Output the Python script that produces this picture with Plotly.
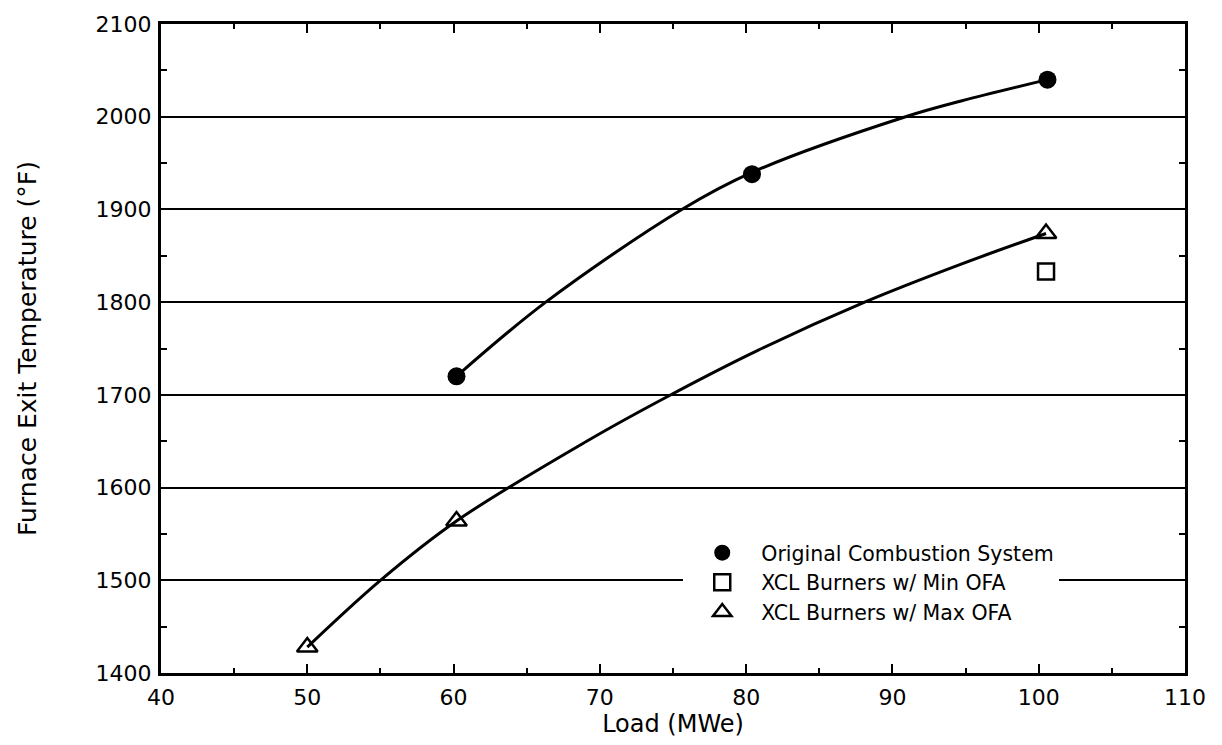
import plotly.graph_objects as go

# --- data ---
orig_load = [60.2, 80.4, 100.6]
orig_temp = [1720, 1938, 2040]

min_ofa_load = [100.5]
min_ofa_temp = [1833]

max_ofa_load = [50.0, 60.2, 100.5]
max_ofa_temp = [1428, 1564, 1874]

# smooth trend curves
orig_curve_load = [60.2, 66.3, 75.6, 80.4, 90.9, 94.7, 100.6]
orig_curve_temp = [1720, 1800, 1900, 1940, 2000, 2017, 2040]

xcl_curve_load = [50.0, 55.0, 60.2, 69.1, 74.6, 80.8, 88.1, 94.7, 100.5]
xcl_curve_temp = [1428, 1500, 1564, 1650, 1698, 1748, 1800, 1841, 1874]

x_ticks = [40, 50, 60, 70, 80, 90, 100, 110]
y_ticks = [1400, 1500, 1600, 1700, 1800, 1900, 2000, 2100]

FONT = "DejaVu Sans, Verdana, sans-serif"

fig = go.Figure()

fig.add_trace(go.Scatter(x=orig_curve_load, y=orig_curve_temp, mode="lines",
                         line=dict(color="black", width=3, shape="spline", smoothing=1.0),
                         showlegend=False, hoverinfo="skip"))
fig.add_trace(go.Scatter(x=xcl_curve_load, y=xcl_curve_temp, mode="lines",
                         line=dict(color="black", width=3, shape="spline", smoothing=1.0),
                         showlegend=False, hoverinfo="skip"))

fig.add_trace(go.Scatter(x=orig_load, y=orig_temp, mode="markers",
                         name="Original Combustion System", legendgroup="a",
                         marker=dict(symbol="circle", size=18, color="black")))
fig.add_trace(go.Scatter(x=min_ofa_load, y=min_ofa_temp, mode="markers",
                         name="XCL Burners w/ Min OFA", legendgroup="b",
                         marker=dict(symbol="square-open", size=16, color="black",
                                     line=dict(width=2.5, color="black"))))
fig.add_trace(go.Scatter(x=max_ofa_load, y=max_ofa_temp, mode="markers",
                         name="XCL Burners w/ Max OFA", legendgroup="c",
                         marker=dict(symbol="triangle-up-open", size=18, color="black",
                                     line=dict(width=2.5, color="black"))))

fig.update_layout(
    width=1222, height=745,
    margin=dict(l=161, r=37, t=20, b=72),
    paper_bgcolor="white", plot_bgcolor="white",
    font=dict(family=FONT, size=21, color="black"),
    legend=dict(x=0.51, y=0.216, xanchor="left", yanchor="top",
                bgcolor="white", borderwidth=0, tracegroupgap=0,
                font=dict(family=FONT, size=20.5, color="black"),
                itemwidth=68),
)

fig.update_xaxes(
    range=[40, 110], tickvals=x_ticks, ticktext=[str(v) for v in x_ticks],
    showline=True, linewidth=3, linecolor="black", mirror="ticks",
    ticks="inside", ticklen=9, tickwidth=2, tickcolor="black",
    showgrid=False, zeroline=False, ticklabelstandoff=3,
    tickfont=dict(family=FONT, size=22),
    minor=dict(dtick=5, ticks="inside", ticklen=5, tickwidth=2, tickcolor="black", showgrid=False),
    title=dict(text="Load (MWe)", font=dict(family=FONT, size=24), standoff=1),
)
fig.update_yaxes(
    range=[1400, 2100], tickvals=y_ticks, ticktext=[str(v) for v in y_ticks],
    showline=True, linewidth=3, linecolor="black", mirror="ticks",
    ticks="inside", ticklen=8, tickwidth=2, tickcolor="black",
    showgrid=True, gridcolor="black", gridwidth=2, zeroline=False,
    ticklabelstandoff=2,
    tickfont=dict(family=FONT, size=22),
    minor=dict(dtick=50, ticks="inside", ticklen=6, tickwidth=2, tickcolor="black", showgrid=False),
    title=dict(text="Furnace Exit Temperature (°F)", font=dict(family=FONT, size=25), standoff=52),
)

# remove the page's default 8px body margin so the 1222x745 figure fills the window exactly
fig.write_html("out.html", config={"displayModeBar": False},
               post_script="document.body.style.margin='0';")
